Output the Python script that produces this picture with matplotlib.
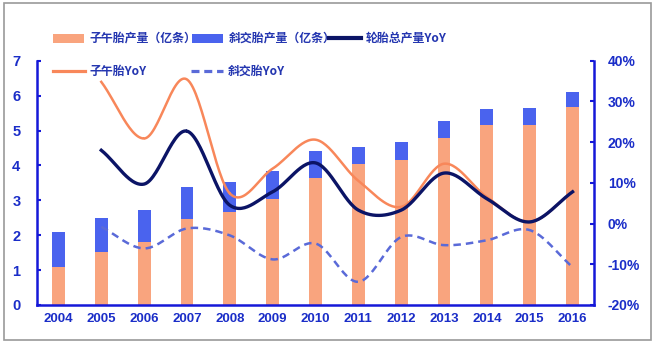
import numpy as np
import matplotlib
matplotlib.use("Agg")
import matplotlib.pyplot as plt
from matplotlib.patches import Rectangle
from matplotlib.lines import Line2D

plt.rcParams['font.family'] = ['Liberation Sans', 'Noto Sans CJK SC', 'DejaVu Sans']
plt.rcParams['font.weight'] = 'bold'

years = ['2004', '2005', '2006', '2007', '2008', '2009', '2010',
         '2011', '2012', '2013', '2014', '2015', '2016']
radial_output = [1.10, 1.53, 1.80, 2.46, 2.67, 3.03, 3.65, 4.03, 4.15, 4.78, 5.16, 5.16, 5.68]
bias_output = [1.00, 0.95, 0.93, 0.91, 0.86, 0.81, 0.76, 0.51, 0.53, 0.50, 0.45, 0.48, 0.41]
total_yoy = [None, 18.0, 9.7, 22.7, 4.5, 7.8, 14.9, 3.3, 3.3, 12.4, 6.1, 0.4, 7.8]
radial_yoy = [None, 34.8, 20.9, 35.4, 7.4, 13.5, 20.6, 10.5, 4.1, 14.7, 6.5, 0.4, 7.8]
bias_yoy = [None, -0.8, -6.1, -1.2, -2.9, -8.8, -4.9, -14.3, -3.3, -5.3, -4.1, -1.6, -10.7]

left_ticks = [0, 1, 2, 3, 4, 5, 6, 7]
right_ticks = [-20, -10, 0, 10, 20, 30, 40]
legend_labels = ['子午胎产量（亿条）', '斜交胎产量（亿条）', '轮胎总产量YoY', '子午胎YoY', '斜交胎YoY']

C_RAD = '#F9A47E'
C_BIAS = '#4A63EE'
C_TOT = '#0B1466'
C_RADL = '#F8875A'
C_BIASL = '#5A6AD8'
C_AX = '#1518D8'
C_TXT = '#1A2DC8'
C_LEG = '#2436B0'

W, H = 660, 350


def smooth(xs, ys, n=30):
    xs = np.asarray(xs, float)
    ys = np.asarray(ys, float)
    px, py = [], []
    m = len(xs)
    for i in range(m - 1):
        p0 = (xs[i - 1], ys[i - 1]) if i > 0 else (2 * xs[i] - xs[i + 1], 2 * ys[i] - ys[i + 1])
        p1 = (xs[i], ys[i])
        p2 = (xs[i + 1], ys[i + 1])
        p3 = (xs[i + 2], ys[i + 2]) if i + 2 < m else (2 * xs[i + 1] - xs[i], 2 * ys[i + 1] - ys[i])
        t = np.linspace(0, 1, n)
        for k in range(2):
            a0, a1, a2, a3 = p0[k], p1[k], p2[k], p3[k]
            v = 0.5 * ((2 * a1) + (-a0 + a2) * t + (2 * a0 - 5 * a1 + 4 * a2 - a3) * t ** 2
                       + (-a0 + 3 * a1 - 3 * a2 + a3) * t ** 3)
            (px if k == 0 else py).extend(v.tolist())
    return np.array(px), np.array(py)


fig = plt.figure(figsize=(6.6, 3.5), dpi=100)
fig.add_artist(Rectangle((4 / W, 1 - 340 / H), 647 / W, 337 / H,
                         transform=fig.transFigure, fill=False, edgecolor='#9a9a9a', lw=1.2))

ax = fig.add_axes([37 / W, 1 - 305 / H, 557 / W, (305 - 60.7) / H])
x = np.arange(len(years))
bw = 0.3
ax.bar(x, radial_output, width=bw, color=C_RAD, zorder=2)
ax.bar(x, bias_output, width=bw, bottom=radial_output, color=C_BIAS, zorder=2)
ax.set_xlim(-0.5, len(years) - 0.5)
ax.set_ylim(0, 7)
ax.set_yticks(left_ticks)
ax.set_xticks(x)
ax.set_xticklabels(years)

ax2 = ax.twinx()
ax2.set_ylim(-20, 40)
ax2.set_yticks(right_ticks)
ax2.set_yticklabels([f'{v}%' for v in right_ticks])


def plot_yoy(vals, **kw):
    xv = [i for i, v in enumerate(vals) if v is not None]
    yv = [v for v in vals if v is not None]
    sx, sy = smooth(xv, yv)
    ax2.plot(sx, sy, **kw)


plot_yoy(bias_yoy, color=C_BIASL, lw=1.8, ls=(0, (3, 2)), zorder=3)
plot_yoy(radial_yoy, color=C_RADL, lw=1.8, zorder=4)
plot_yoy(total_yoy, color=C_TOT, lw=2.4, zorder=5)

for a in (ax, ax2):
    for s in a.spines.values():
        s.set_visible(False)
ax.spines['left'].set_visible(True)
ax.spines['bottom'].set_visible(True)
ax2.spines['right'].set_visible(True)
for s in (ax.spines['left'], ax.spines['bottom'], ax2.spines['right']):
    s.set_color(C_AX)
    s.set_linewidth(1.8)

ax.tick_params(axis='y', direction='in', length=3, width=1.5, color=C_AX,
               labelcolor=C_TXT, labelsize=10.5, pad=12)
ax.tick_params(axis='x', length=0, labelcolor=C_TXT, labelsize=9.5, pad=6)
ax2.tick_params(axis='y', direction='in', length=3, width=1.5, color=C_AX,
                labelcolor=C_TXT, labelsize=10, pad=10)
for lab in ax.get_xticklabels() + ax.get_yticklabels() + ax2.get_yticklabels():
    lab.set_fontweight('bold')

# legend, laid out by hand (pixel positions from the top-left corner)
def fx(px):
    return px / W


def fy(py):
    return 1 - py / H


leg_font = dict(family=['Noto Sans CJK SC', 'DejaVu Sans'], weight='bold', size=8.6, color=C_LEG)
rows = [38, 71]
entries = [
    ('patch', C_RAD, None, 53, rows[0], legend_labels[0]),
    ('patch', C_BIAS, None, 192, rows[0], legend_labels[1]),
    ('line', C_TOT, '-', 329, rows[0], legend_labels[2]),
    ('line', C_RADL, '-', 53, rows[1], legend_labels[3]),
    ('line', C_BIASL, (0, (2.5, 1.5)), 191, rows[1], legend_labels[4]),
]
for kind, col, ls, x0, y0, lab in entries:
    if kind == 'patch':
        fig.add_artist(Rectangle((fx(x0), fy(y0 + 4.5)), 31 / W, 9 / H,
                                 transform=fig.transFigure, facecolor=col, edgecolor='none'))
    else:
        lw = 3.0 if col == C_TOT else 2.3
        fig.add_artist(Line2D([fx(x0), fx(x0 + 32)], [fy(y0), fy(y0)],
                              transform=fig.transFigure, color=col, lw=lw, ls=ls))
    fig.text(fx(x0 + 37), fy(y0), lab, va='center', ha='left', **leg_font)

fig.savefig('out.png', dpi=100)
